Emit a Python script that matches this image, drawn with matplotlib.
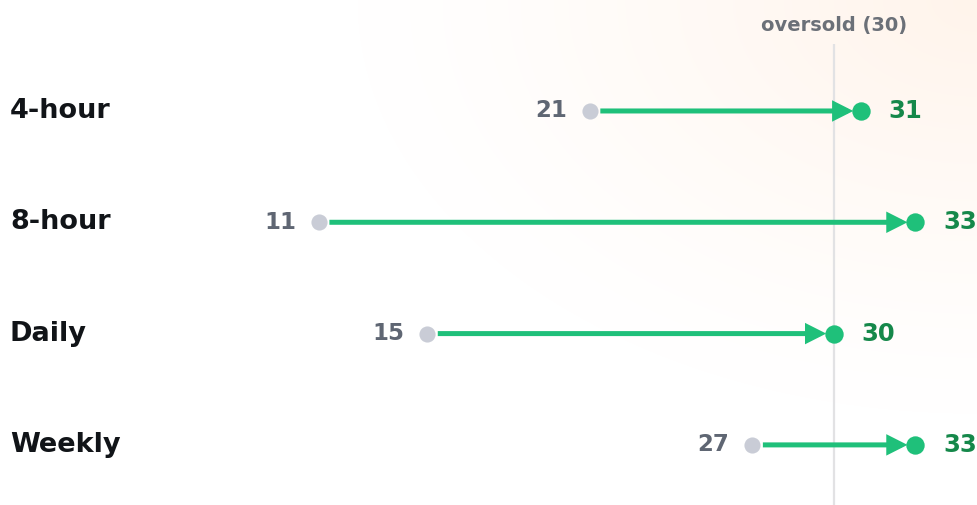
import numpy as np
import matplotlib
matplotlib.use("Agg")
import matplotlib.pyplot as plt
from matplotlib.patches import FancyArrowPatch
from matplotlib.transforms import blended_transform_factory

labels = ["4-hour", "8-hour", "Daily", "Weekly"]
start_vals = [21, 11, 15, 27]
end_vals = [31, 33, 30, 33]
threshold = 30
threshold_label = "oversold (30)"

W, H = 978, 505
fig = plt.figure(figsize=(W / 100, H / 100), dpi=100)
ax = fig.add_axes([0, 0, 1, 1])

# background gradient (peach in top-right fading to white)
bg = fig.add_axes([0, 0, 1, 1], zorder=-10)
yy, xx = np.mgrid[0:H, 0:W]
d = np.sqrt((xx - W) ** 2 + (yy * 1.5) ** 2)
t = np.clip(1 - d / 620.0, 0, 1) ** 1.2
peach = np.array([255, 244, 235]) / 255.0
img = np.ones((H, W, 3)) * (1 - t[..., None]) + peach * t[..., None]
bg.imshow(img, aspect="auto", extent=[0, 1, 0, 1], origin="upper")
bg.axis("off")
ax.set_zorder(1)
ax.patch.set_alpha(0)

ax.set_xlim(-0.775, 35.325)
ax.set_ylim(3.54, -0.997)
ax.axis("off")

gray_dot = "#c9ccd6"
green = "#1fc07a"
green_text = "#15884a"
gray_text = "#5f6673"
label_col = "#111418"

# threshold line
ax.plot([threshold, threshold], [3.6, -0.6], color="#e2e2e4", lw=1.6, zorder=1,
        solid_capstyle="butt")
ax.text(threshold, -0.77, threshold_label, ha="center", va="center",
        fontsize=14, fontweight="bold", color="#6b7078")

tr = blended_transform_factory(fig.transFigure, ax.transData)
for i, (lab, s, e) in enumerate(zip(labels, start_vals, end_vals)):
    ax.text(10 / W, i, lab, transform=tr, ha="left", va="center",
            fontsize=19.5, fontweight="bold", color=label_col)
    arr = FancyArrowPatch((s, i), (e, i),
                          arrowstyle="-|>,head_length=9.5,head_width=4.8",
                          mutation_scale=1, color=green, lw=3.6,
                          shrinkA=7.5, shrinkB=5.4, zorder=2,
                          joinstyle="miter", capstyle="butt")
    ax.add_patch(arr)
    ax.scatter([s], [i], s=135, color=gray_dot, zorder=3, linewidths=0)
    ax.scatter([e], [i], s=175, color=green, zorder=3, linewidths=0)
    ax.annotate(str(s), (s, i), xytext=(-23, 0), textcoords="offset pixels",
                ha="right", va="center", fontsize=16.5, fontweight="bold",
                color=gray_text)
    ax.annotate(str(e), (e, i), xytext=(28, 0), textcoords="offset pixels",
                ha="left", va="center", fontsize=17.5, fontweight="bold",
                color=green_text, annotation_clip=False)

fig.savefig("out.png", dpi=100)
